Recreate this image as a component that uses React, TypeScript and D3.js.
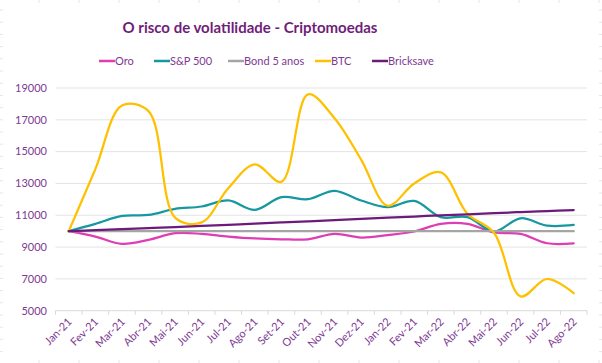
import React, { useEffect, useRef } from 'react';
import * as d3 from 'd3';

const months = [
  'Jan-21', 'Fev-21', 'Mar-21', 'Abr-21', 'Mai-21', 'Jun-21', 'Jul-21', 'Ago-21', 'Set-21', 'Out-21',
  'Nov-21', 'Dez-21', 'Jan-22', 'Fev-21', 'Mar-22', 'Abr-22', 'Mai-22', 'Jun-22', 'Jul-22', 'Ago-22',
];

const oro = [10000, 9660, 9200, 9450, 9870, 9830, 9660, 9540, 9490, 9490,
  9830, 9600, 9750, 9980, 10460, 10460, 9920, 9830, 9240, 9240];
const sp500 = [10000, 10460, 10960, 11020, 11400, 11550, 11930, 11340, 12140, 12010,
  12540, 11930, 11510, 11900, 10880, 10880, 9980, 10810, 10350, 10390];
const bond = [10000, 10000, 10000, 10000, 10000, 10000, 10000, 10000, 10000, 10000,
  10000, 10000, 10000, 10000, 10000, 10000, 10000, 10000, 10000, 10000];
const btc = [10000, 13900, 17900, 17550, 10850, 10550, 12700, 14200, 13100, 18600,
  17100, 14500, 11600, 13000, 13700, 11100, 9900, 5900, 7000, 6100];
const bricksave = [10000, 10065, 10130, 10195, 10260, 10330, 10400, 10470, 10545, 10620,
  10695, 10770, 10845, 10920, 10995, 11060, 11130, 11200, 11265, 11330];

const yTicks = [5000, 7000, 9000, 11000, 13000, 15000, 17000, 19000];

const seriesNames = ['Oro', 'S&P 500', 'Bond 5 anos', 'BTC', 'Bricksave'];
const seriesColors = ['#DE3DB4', '#15989F', '#A5A5A5', '#FFC000', '#6C1B7A'];

const App: React.FC = () => {
  const svgRef = useRef<SVGSVGElement | null>(null);

  useEffect(() => {
    if (!svgRef.current) return;
    const width = 602;
    const height = 363;
    const left = 55.5;
    const right = 587;
    const top = 88;
    const bottom = 310.7;

    const svg = d3.select(svgRef.current);
    svg.selectAll('*').remove();

    const font = 'Lato, "Open Sans", sans-serif';
    const labelColor = '#7E3A93';

    // faint sheet gridline marks around the edge
    const edge = svg.append('g').attr('stroke', '#e6e6e6').attr('stroke-width', 1);
    for (let x = 39; x < width; x += 40) {
      edge.append('line').attr('x1', x).attr('x2', x).attr('y1', 0).attr('y2', 3);
      edge.append('line').attr('x1', x).attr('x2', x).attr('y1', height - 3).attr('y2', height);
    }
    for (let y = 10; y < height; y += 12.2) {
      edge.append('line').attr('x1', 0).attr('x2', 3).attr('y1', y).attr('y2', y);
      edge.append('line').attr('x1', width - 3).attr('x2', width).attr('y1', y).attr('y2', y);
    }

    const x = d3.scaleBand<string>()
      .domain(months.map((m, i) => `${i}`))
      .range([left, right]);
    const xc = (i: number) => (x(`${i}`) as number) + x.bandwidth() / 2;

    const y = d3.scaleLinear().domain([5000, 19000]).range([bottom, top]);

    // gridlines
    svg.append('g')
      .selectAll('line')
      .data(yTicks.filter(t => t !== 5000))
      .join('line')
      .attr('x1', left)
      .attr('x2', right)
      .attr('y1', d => y(d))
      .attr('y2', d => y(d))
      .attr('stroke', '#e3e3e3')
      .attr('stroke-width', 1);

    // y labels
    svg.append('g')
      .selectAll('text')
      .data(yTicks)
      .join('text')
      .attr('x', 47)
      .attr('y', d => y(d))
      .attr('dy', '0.35em')
      .attr('text-anchor', 'end')
      .attr('font-family', font)
      .attr('font-size', 11)
      .attr('fill', labelColor)
      .text(d => d);

    // x axis line with ticks
    const xa = svg.append('g');
    xa.append('line')
      .attr('x1', left).attr('x2', right)
      .attr('y1', bottom).attr('y2', bottom)
      .attr('stroke', '#d9d9d9');
    xa.selectAll('line.tick')
      .data(d3.range(months.length + 1))
      .join('line')
      .attr('class', 'tick')
      .attr('x1', i => left + i * x.step())
      .attr('x2', i => left + i * x.step())
      .attr('y1', bottom)
      .attr('y2', bottom + 4)
      .attr('stroke', '#d9d9d9');

    xa.selectAll('text')
      .data(months)
      .join('text')
      .attr('transform', (d, i) => `translate(${xc(i) + 1},${bottom + 9}) rotate(-45)`)
      .attr('text-anchor', 'end')
      .attr('dy', '0.35em')
      .attr('font-family', font)
      .attr('font-size', 11)
      .attr('fill', labelColor)
      .text(d => d);

    // lines
    const allSeries = [oro, sp500, bond, btc, bricksave];
    const line = d3.line<number>()
      .x((d, i) => xc(i))
      .y(d => y(d))
      .curve(d3.curveCatmullRom.alpha(0.5));

    allSeries.forEach((s, k) => {
      svg.append('path')
        .datum(s)
        .attr('fill', 'none')
        .attr('stroke', seriesColors[k])
        .attr('stroke-width', 2.25)
        .attr('stroke-linecap', 'round')
        .attr('d', line);
    });

    // title
    svg.append('text')
      .attr('x', 250)
      .attr('y', 32.5)
      .attr('text-anchor', 'middle')
      .attr('font-family', font)
      .attr('font-weight', 'bold')
      .attr('font-size', 15)
      .attr('fill', '#701E78')
      .text('O risco de volatilidade - Criptomoedas');

    // legend
    const legendX = [99, 154, 228, 315, 372];
    const lg = svg.append('g');
    seriesNames.forEach((name, k) => {
      lg.append('line')
        .attr('x1', legendX[k]).attr('x2', legendX[k] + 16)
        .attr('y1', 61).attr('y2', 61)
        .attr('stroke', seriesColors[k])
        .attr('stroke-width', 2.5);
      lg.append('text')
        .attr('x', legendX[k] + 16)
        .attr('y', 61)
        .attr('dy', '0.35em')
        .attr('font-family', font)
        .attr('font-size', 11)
        .attr('fill', labelColor)
        .text(name);
    });
  }, []);

  return (
    <svg
      ref={svgRef}
      width={602}
      height={363}
      style={{ position: 'absolute', left: 0, top: 0, background: '#fff' }}
    />
  );
};

export default App;
